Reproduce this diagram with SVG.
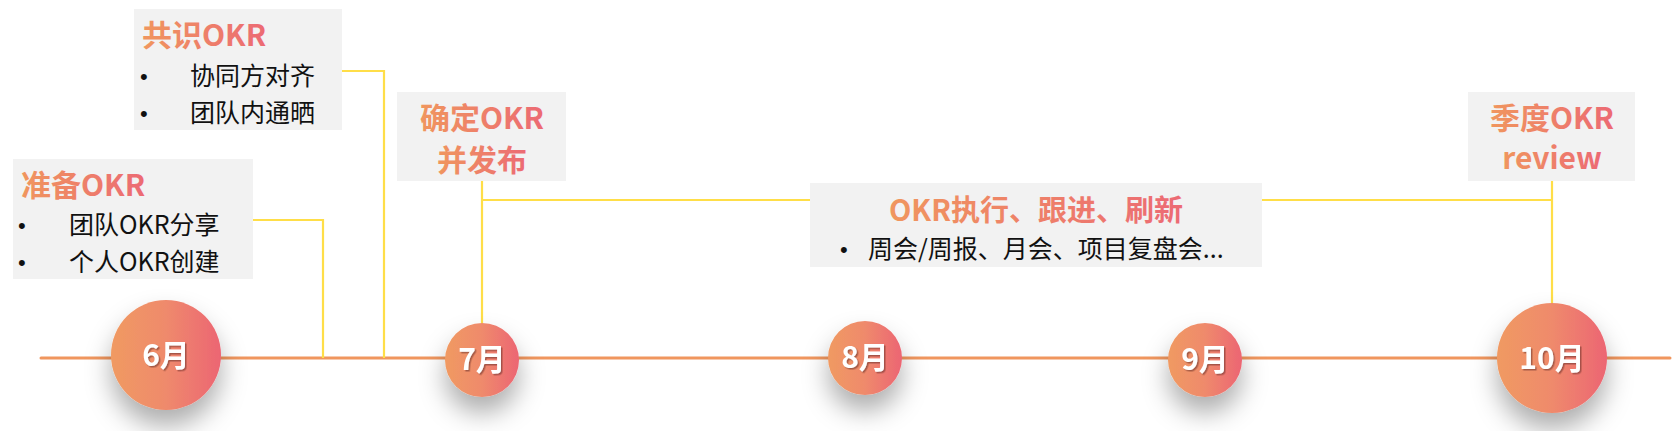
<svg xmlns="http://www.w3.org/2000/svg" width="1680" height="431" viewBox="0 0 1680 431">
<defs>
<linearGradient id="cg" x1="0" y1="0" x2="1" y2="0">
<stop offset="0" stop-color="#F09A62"/>
<stop offset="0.5" stop-color="#EF8A6C"/>
<stop offset="1" stop-color="#EC6573"/>
</linearGradient>
<linearGradient id="tg" x1="0" y1="0" x2="1" y2="0">
<stop offset="0" stop-color="#F0965E"/>
<stop offset="1" stop-color="#EC6A74"/>
</linearGradient>
<filter id="sh" x="-70%" y="-60%" width="240%" height="260%">
<feDropShadow dx="0" dy="16" stdDeviation="13" flood-color="#000" flood-opacity="0.32"/>
</filter>
<filter id="ts" x="-20%" y="-20%" width="150%" height="150%">
<feDropShadow dx="1.5" dy="1.5" stdDeviation="0.6" flood-color="#6b3026" flood-opacity="0.55"/>
</filter>
<style>
.box{fill:#F2F2F2}
.title{font-family:"Noto Sans CJK SC",sans-serif;font-weight:bold;font-size:30px;fill:url(#tg)}
.t2{font-size:29px}
.item{font-family:"Noto Sans CJK SC",sans-serif;font-size:25px;fill:#111}
.dot{font-family:"Liberation Sans",sans-serif;font-size:22px;fill:#111}
.conn{fill:none;stroke:#FFDE48;stroke-width:2.2}
.tl{stroke:#F0965E;stroke-width:3;stroke-linecap:round}
.circ{fill:url(#cg);filter:url(#sh)}
.mon{font-family:"Noto Sans CJK SC",sans-serif;font-weight:bold;font-size:30px;fill:#fff;text-anchor:middle;filter:url(#ts)}
</style>
</defs>
<rect width="1680" height="431" fill="#fff"/>
<line class="tl" x1="41" y1="358" x2="1670" y2="358"/>
<g id="connectors">
<polyline class="conn" points="253,220 323,220 323,358"/>
<polyline class="conn" points="342,71 384,71 384,358"/>
<line class="conn" x1="482" y1="181" x2="482" y2="324"/>
<line class="conn" x1="482" y1="200" x2="810" y2="200"/>
<line class="conn" x1="1262" y1="200" x2="1552" y2="200"/>
<line class="conn" x1="1552" y1="181" x2="1552" y2="303"/>
</g>
<g id="node-prep">
<rect class="box" x="13" y="159" width="240" height="120"/>
<text class="title" x="21" y="196">准备OKR</text>
<text class="dot" x="18" y="233">•</text>
<text class="item" x="69" y="234">团队OKR分享</text>
<text class="dot" x="18" y="270">•</text>
<text class="item" x="69" y="271">个人OKR创建</text>
</g>
<g id="node-consensus">
<rect class="box" x="134" y="9" width="208" height="121"/>
<text class="title" x="142" y="46">共识OKR</text>
<text class="dot" x="140" y="84">•</text>
<text class="item" x="190" y="85">协同方对齐</text>
<text class="dot" x="140" y="121">•</text>
<text class="item" x="190" y="122">团队内通晒</text>
</g>
<g id="node-publish">
<rect class="box" x="397" y="92" width="169" height="89"/>
<text class="title" x="482" y="129" text-anchor="middle">确定OKR</text>
<text class="title" x="482" y="171" text-anchor="middle">并发布</text>
</g>
<g id="node-exec">
<rect class="box" x="810" y="183" width="452" height="84"/>
<text class="title t2" x="1036" y="221" text-anchor="middle">OKR执行、跟进、刷新</text>
<text class="dot" x="840" y="257">•</text>
<text class="item" x="868" y="258">周会/周报、月会、项目复盘会...</text>
</g>
<g id="node-review">
<rect class="box" x="1468" y="92" width="167" height="89"/>
<text class="title" x="1552" y="129" text-anchor="middle">季度OKR</text>
<text class="title" x="1552" y="169" text-anchor="middle">review</text>
</g>
<g id="m6"><circle class="circ" cx="166" cy="355" r="55"/><text class="mon" x="166" y="366">6月</text></g>
<g id="m7"><circle class="circ" cx="482" cy="360" r="37"/><text class="mon" x="482" y="370">7月</text></g>
<g id="m8"><circle class="circ" cx="865" cy="358" r="37"/><text class="mon" x="865" y="368">8月</text></g>
<g id="m9"><circle class="circ" cx="1205" cy="360" r="37"/><text class="mon" x="1205" y="370">9月</text></g>
<g id="m10"><circle class="circ" cx="1552" cy="358" r="55"/><text class="mon" x="1552" y="369">10月</text></g>
</svg>
